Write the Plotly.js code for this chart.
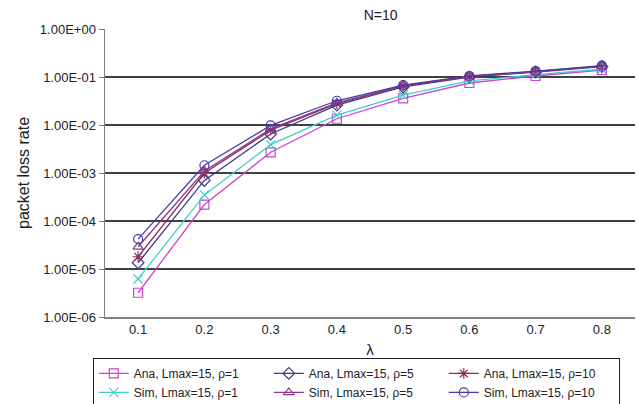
<!DOCTYPE html>
<html><head><meta charset="utf-8">
<script src="https://cdn.plot.ly/plotly-3.0.1.min.js"></script>
<style>body{margin:0;padding:0;background:#fff}#c{width:638px;height:404px}</style>
</head><body><div id="c"></div>
<script>
var lambda = [0.1, 0.2, 0.3, 0.4, 0.5, 0.6, 0.7, 0.8];
var lambdaLabels = ["0.1","0.2","0.3","0.4","0.5","0.6","0.7","0.8"];
var anaRho1  = [3.2e-6, 2.2e-4, 2.7e-3, 1.35e-2, 3.6e-2, 7.5e-2, 1.05e-1, 1.4e-1];
var simRho1  = [6.2e-6, 3.5e-4, 3.9e-3, 1.6e-2, 4.2e-2, 8.3e-2, 1.12e-1, 1.45e-1];
var anaRho5  = [1.35e-5, 7.0e-4, 6.5e-3, 2.6e-2, 6.2e-2, 1.0e-1, 1.27e-1, 1.65e-1];
var anaRho10 = [1.8e-5, 1.0e-3, 7.8e-3, 2.8e-2, 6.5e-2, 1.02e-1, 1.3e-1, 1.68e-1];
var simRho5  = [2.9e-5, 1.1e-3, 8.3e-3, 2.9e-2, 6.6e-2, 1.03e-1, 1.3e-1, 1.68e-1];
var simRho10 = [4.2e-5, 1.45e-3, 9.8e-3, 3.2e-2, 6.8e-2, 1.05e-1, 1.33e-1, 1.72e-1];
var yTickVals = [1e-6, 1e-5, 1e-4, 1e-3, 1e-2, 1e-1, 1];
var yTickText = ["1.00E-06","1.00E-05","1.00E-04","1.00E-03","1.00E-02","1.00E-01","1.00E+00"];

function tr(name, y, color, symbol){
  return {x: lambda, y: y, name: name, type: 'scatter', mode: 'lines+markers',
    line: {color: color, width: 1.3},
    marker: {symbol: symbol, size: 9, color: color, line: {color: color, width: 1.2}}};
}
var data = [
  tr('Ana, Lmax=15, ρ=1', anaRho1, '#cc44cc', 'square-open'),
  tr('Ana, Lmax=15, ρ=5', anaRho5, '#3a3a8c', 'diamond-open'),
  tr('Ana, Lmax=15, ρ=10', anaRho10, '#8a2a5a', 'asterisk-open'),
  tr('Sim, Lmax=15, ρ=1', simRho1, '#44cccc', 'x-thin-open'),
  tr('Sim, Lmax=15, ρ=5', simRho5, '#8a3a8a', 'triangle-up-open'),
  tr('Sim, Lmax=15, ρ=10', simRho10, '#4a3aa8', 'circle-open')
];
var layout = {
  width: 638, height: 404,
  margin: {l: 105, r: 3, t: 29, b: 87, autoexpand: false},
  paper_bgcolor: '#fff', plot_bgcolor: '#fff',
  font: {family: 'Liberation Sans, Arial, sans-serif', size: 12, color: '#222'},
  title: {text: 'N=10', font: {size: 14, color: '#222'}, x: 0.52, xref: 'paper', xanchor: 'center', y: 0.963, yanchor: 'middle'},
  showlegend: true,
  xaxis: {range: [0.05, 0.85], tickvals: lambda, ticktext: lambdaLabels, showgrid: false,
    zeroline: false, showline: true, linecolor: '#808080', linewidth: 1.5, ticks: '',
    title: {text: 'λ', font: {size: 15}, standoff: 8}, tickfont: {size: 13}},
  yaxis: {type: 'log', range: [-6, 0], tickvals: yTickVals, ticktext: yTickText,
    showgrid: true, gridcolor: '#404040', gridwidth: 1.2, zeroline: false,
    showline: true, linecolor: '#808080', linewidth: 1.5, ticks: 'outside', ticklen: 5, tickcolor: '#808080',
    title: {text: 'packet loss rate', font: {size: 16}, standoff: 6}, tickfont: {size: 13}},
  legend: {orientation: 'h', x: -0.023, xanchor: 'left', y: -0.142, yanchor: 'top',
    bordercolor: '#222', borderwidth: 1, entrywidth: 130, entrywidthmode: 'pixels',
    font: {size: 12}, tracegroupgap: 0, itemwidth: 30}
};
Plotly.newPlot('c', data, layout, {displayModeBar: false, staticPlot: true});
</script></body></html>
